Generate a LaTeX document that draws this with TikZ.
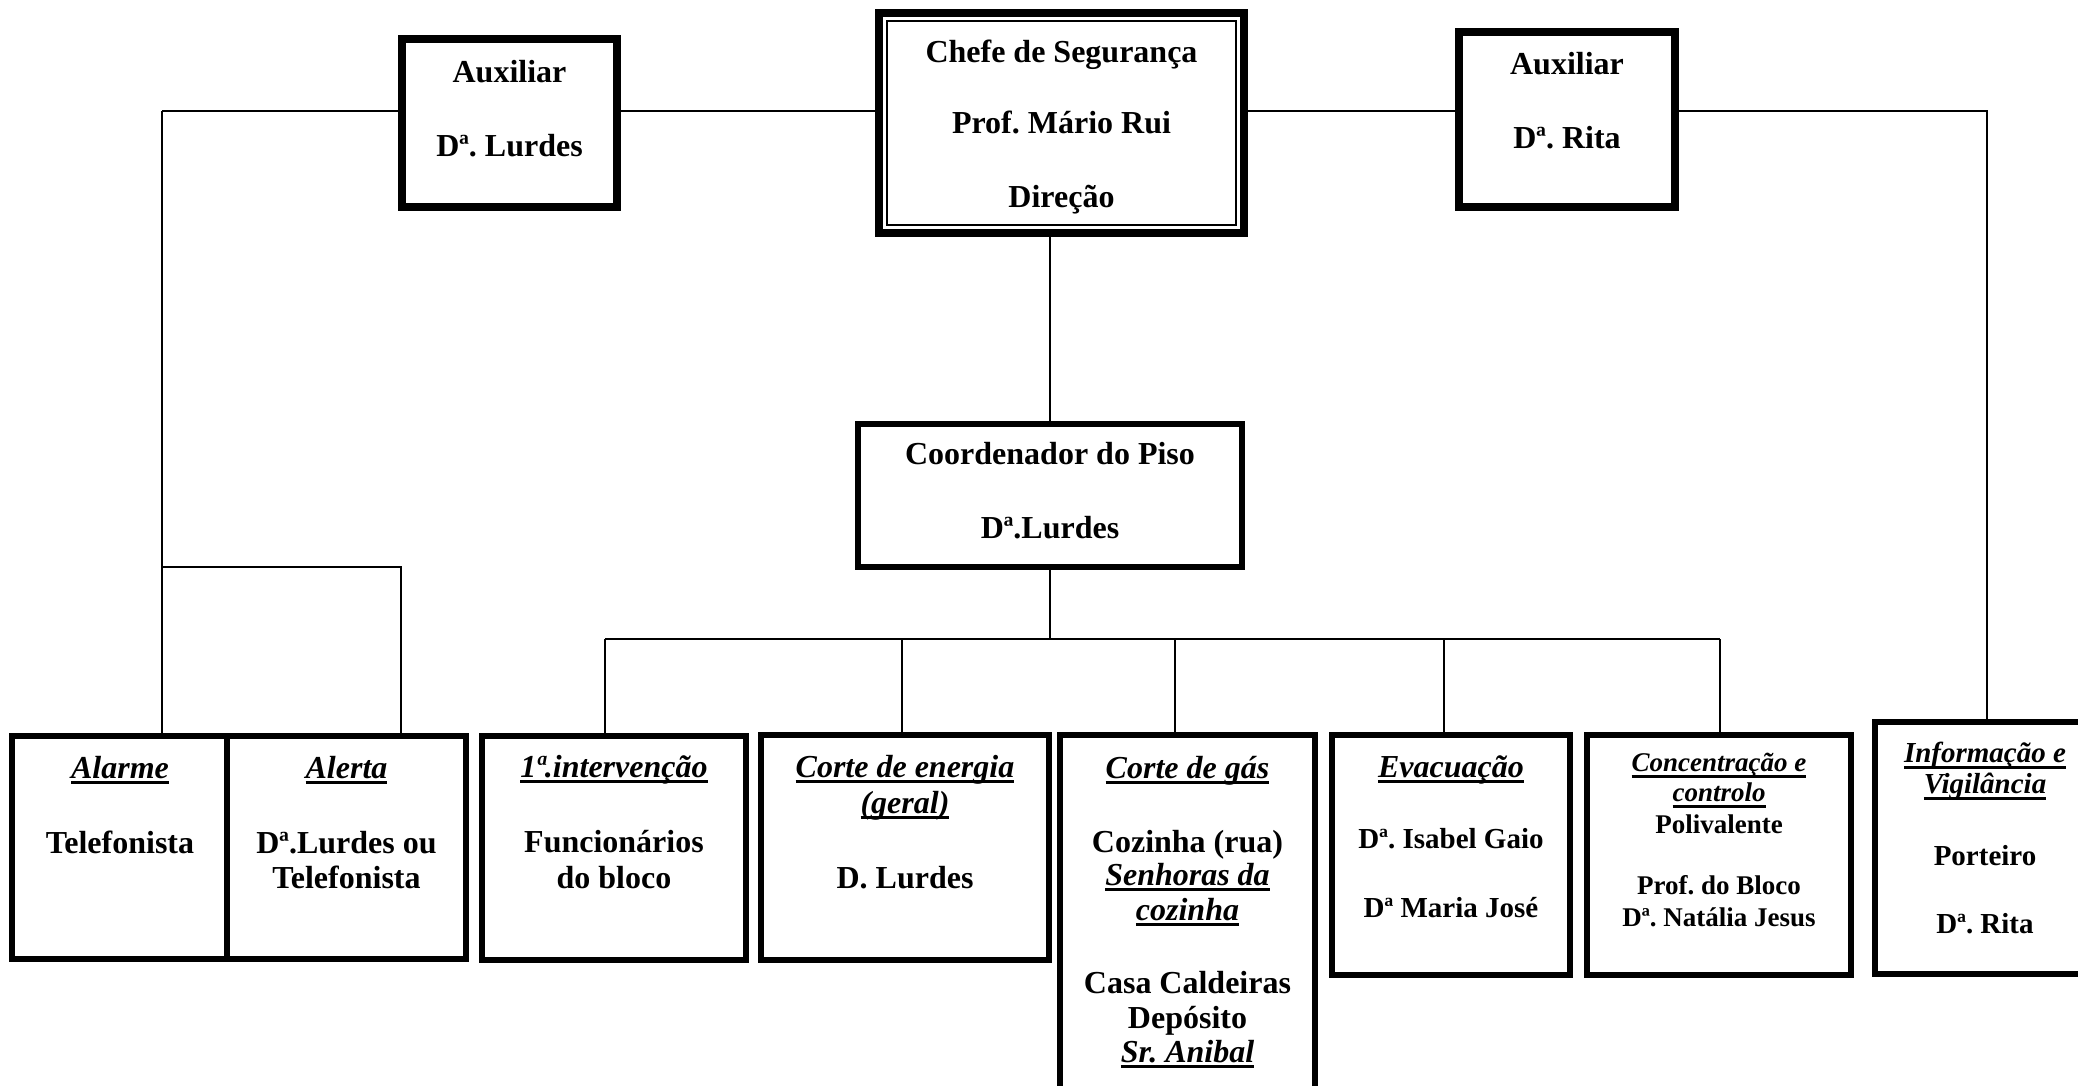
\documentclass[tikz,border=0pt]{standalone}
\usepackage{fontspec}
\setmainfont{Liberation Serif}
\usetikzlibrary{calc}
\frenchspacing
\tikzset{
  frame/.style={draw, fill=white, line width=6pt, inner sep=0pt, outer sep=0pt},
  caption/.style={align=center, anchor=north, inner sep=0pt, font=\bfseries\fontsize{32}{36}\selectfont},
  note/.style={caption, font=\bfseries\fontsize{27}{31}\selectfont},
  notemid/.style={caption, font=\bfseries\fontsize{29}{33}\selectfont},
  wire/.style={line width=2pt},
  innerline/.style={line width=2.5pt}
}
\newcommand{\ulin}[1]{\setbox0=\hbox{#1}\rlap{\rule[-6pt]{\wd0}{3pt}}\box0}
\newcommand{\frm}[6][6]{\node[frame, line width=#1pt, minimum width={#5-#3-#1}, minimum height={#6-#4-#1}] (#2) at ({(#3+#5)/2},{(#4+#6)/2}) {};}
\newcommand{\midfont}{\fontsize{29}{33}\selectfont}

\begin{document}
\begin{tikzpicture}[x=1pt, y=-1pt]
  \useasboundingbox (0,0) rectangle (2078,1085);
  \clip (0,0) rectangle (2078,1085);

  % connectors
  \coordinate (lft) at (162,111);
  \coordinate (rgt) at (1987,111);
  \coordinate (brk) at (401,567);
  \coordinate (bus) at (1050,639);

  % boxes
  \frm[8]{auxl}{398}{35}{621}{211}
  \frm[8]{chefe}{875}{9}{1248}{237}
  \frm[8]{auxr}{1455}{28}{1679}{211}
  \frm{coord}{855}{421}{1245}{570}
  \frm{alarme}{9}{733}{231}{962}
  \frm{alerta}{224}{733}{469}{962}
  \frm{inter}{479}{733}{749}{963}
  \frm{energia}{758}{732}{1052}{963}
  \frm{gas}{1057}{732}{1318}{1130}
  \frm{evac}{1329}{732}{1573}{978}
  \frm{conc}{1584}{732}{1854}{978}
  \frm{info}{1872}{719}{2098}{977}
  \draw[innerline] ([shift={(8,8)}]chefe.north west) rectangle ([shift={(-8,-8)}]chefe.south east);

  \draw[wire] (lft) -- (lft |- alarme.north);
  \draw[wire] (lft) -- (auxl.west |- lft);
  \draw[wire] (auxl.east |- lft) -- (chefe.west |- lft);
  \draw[wire] (chefe.east |- lft) -- (auxr.west |- lft);
  \draw[wire] (auxr.east |- rgt) -- (rgt) -- (rgt |- info.north);
  \draw[wire] (lft |- brk) -- (brk) -- (brk |- alerta.north);
  \draw[wire] (coord.north) -- (coord.north |- chefe.south);
  \draw[wire] (coord.south) -- (coord.south |- bus);
  \draw[wire] (605,0 |- bus) -- (1720,0 |- bus);
  \foreach \n/\x in {inter/605, energia/902, gas/1175, evac/1444, conc/1720}
    \draw[wire] (\x,0 |- bus) -- (\x,0 |- \n.north);

  % texts
  \node[caption] (auxlT) at (509.5,60) {Auxiliar\\[38pt]Dª. Lurdes};
  \node[caption] (chefeT) at (1061.5,40) {Chefe de Segurança\\[35pt]Prof. Mário Rui\\[38pt]Direção};
  \node[caption] (auxrT) at (1567,52) {Auxiliar\\[38pt]Dª. Rita};
  \node[caption] (coordT) at (1050,442) {Coordenador do Piso\\[38pt]Dª.Lurdes};
  \node[caption] (alarmeT) at (120,756) {\ulin{\textit{Alarme}}\\[39pt]Telefonista};
  \node[caption] (alertaT) at (346.5,756) {\ulin{\textit{Alerta}}\\[39pt]Dª.Lurdes ou\\[-1pt]Telefonista};
  \node[caption] (interT) at (614,755) {\ulin{\textit{1ª.intervenção}}\\[39pt]Funcionários\\do bloco};
  \node[caption] (energiaT) at (905,755) {\ulin{\textit{Corte de energia}}\\\ulin{\textit{(geral)}}\\[39pt]D. Lurdes};
  \node[caption] (gasT) at (1187.5,756) {\ulin{\textit{Corte de gás}}\\[38pt]Cozinha (rua)\\[-3pt]\ulin{\textit{Senhoras da}}\\[-1pt]\ulin{\textit{cozinha}}\\[37pt]Casa Caldeiras\\[-1pt]Depósito\\[-2pt]\ulin{\textit{Sr. Anibal}}};
  \node[caption] (evacT) at (1451,755) {\ulin{\textit{Evacuação}}\\[35pt]{\midfont Dª. Isabel Gaio}\\[33pt]{\midfont Dª Maria José}};
  \node[note] (concT) at (1719,753) {\ulin{\textit{Concentração e}}\\[-1pt]\ulin{\textit{controlo}}\\[1pt]Polivalente\\[30pt]Prof. do Bloco\\[1pt]Dª. Natália Jesus};
  \node[notemid] (infoT) at (1985,742) {\ulin{\textit{Informação e}}\\[-2pt]\ulin{\textit{Vigilância}}\\[39pt]Porteiro\\[35pt]Dª. Rita};
\end{tikzpicture}
\end{document}
